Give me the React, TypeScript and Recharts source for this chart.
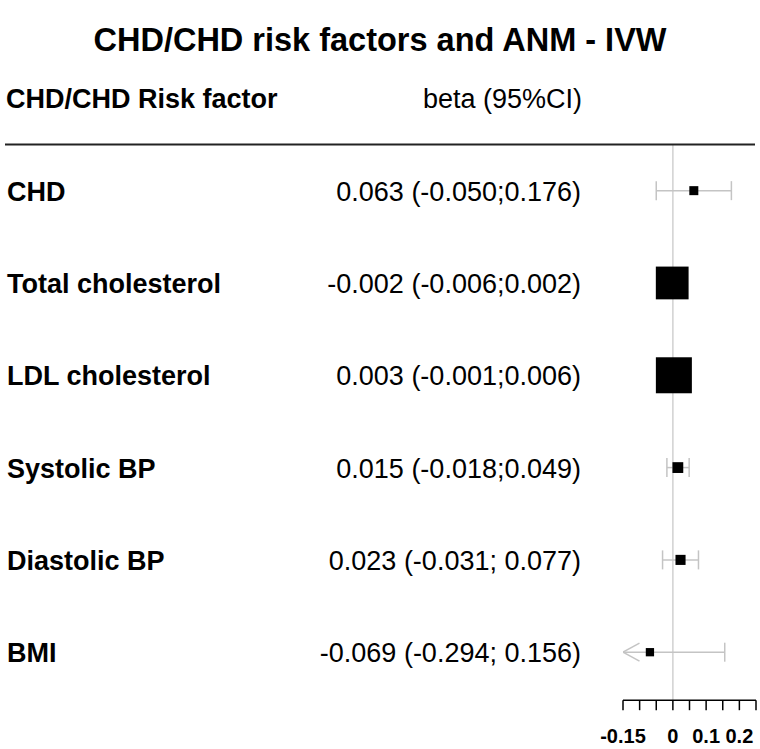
import React from "react";
import { ScatterChart, Scatter, XAxis, YAxis, ReferenceLine } from "recharts";

const factors = ["CHD", "Total cholesterol", "LDL cholesterol", "Systolic BP", "Diastolic BP", "BMI"];
const betas = [0.063, -0.002, 0.003, 0.015, 0.023, -0.069];
const lowers = [-0.05, -0.006, -0.001, -0.018, -0.031, -0.294];
const uppers = [0.176, 0.002, 0.006, 0.049, 0.077, 0.156];
const ciLabels = [
  "0.063 (-0.050;0.176)",
  "-0.002 (-0.006;0.002)",
  "0.003 (-0.001;0.006)",
  "0.015 (-0.018;0.049)",
  "0.023 (-0.031; 0.077)",
  "-0.069 (-0.294; 0.156)",
];
// relative box weights (largest = 1)
const weights = [0.25, 0.91, 1.0, 0.3, 0.28, 0.23];
const xTicks = [-0.15, -0.1, -0.05, 0, 0.05, 0.1, 0.15, 0.2, 0.25];
const xTickLabels = ["-0.15", "", "", "0", "", "0.1", "", "0.2", ""];
const xDomain = [-0.15, 0.25];

const title = "CHD/CHD risk factors and ANM - IVW";
const headerLeft = "CHD/CHD Risk factor";
const headerRight = "beta (95%CI)";

const FONT = "'Liberation Sans', Arial, Helvetica, sans-serif";
const CI_COLOR = "#c4c4c4";
const MAX_BOX = 36;

const boxes = factors.map((f, i) => ({ x: betas[i], y: i, w: weights[i] }));
const ciSeries = factors.map((f, i) => [
  { x: Math.max(lowers[i], xDomain[0]), y: i, clipped: lowers[i] < xDomain[0] },
  { x: Math.min(uppers[i], xDomain[1]), y: i, clipped: uppers[i] > xDomain[1] },
]);

const capShape = (props: any) => {
  const { cx, cy, payload, index } = props;
  if (payload.clipped) {
    const dir = index === 0 ? 1 : -1;
    return (
      <g>
        <line x1={cx} y1={cy} x2={cx + dir * 16.5} y2={cy - 9} stroke={CI_COLOR} strokeWidth={1.5} />
        <line x1={cx} y1={cy} x2={cx + dir * 16.5} y2={cy + 9} stroke={CI_COLOR} strokeWidth={1.5} />
      </g>
    );
  }
  return <line x1={cx} y1={cy - 9.5} x2={cx} y2={cy + 9.5} stroke={CI_COLOR} strokeWidth={1.5} />;
};

const boxShape = (props: any) => {
  const { cx, cy, payload } = props;
  const s = payload.w * MAX_BOX;
  return <rect x={cx - s / 2} y={cy - s / 2} width={s} height={s} fill="#000" />;
};

const YTick = (props: any) => {
  const { y, payload } = props;
  const i = payload.value;
  if (i < 0 || i >= factors.length) return null;
  return (
    <g>
      <text x={7} y={y + 10} fontFamily={FONT} fontSize={27} fontWeight="bold" fill="#000">
        {factors[i]}
      </text>
      <text x={581} y={y + 10} fontFamily={FONT} fontSize={27} textAnchor="end" fill="#000">
        {ciLabels[i]}
      </text>
    </g>
  );
};

const XTick = (props: any) => {
  const { x, y, payload } = props;
  const idx = xTicks.indexOf(payload.value);
  const label = idx >= 0 ? xTickLabels[idx] : "";
  if (!label) return null;
  return (
    <text x={x} y={y + 31} fontFamily={FONT} fontSize={20} fontWeight="bold" textAnchor="middle" fill="#000">
      {label}
    </text>
  );
};

export default function App() {
  return (
    <div style={{ position: "absolute", left: 0, top: 0, width: 760, height: 749, background: "#fff" }}>
      <div style={{ position: "absolute", left: 0, top: 0 }}>
        <ScatterChart width={760} height={749} margin={{ top: 144.5, right: 4, bottom: 18.8, left: 0 }}>
          <XAxis
            type="number"
            dataKey="x"
            domain={xDomain}
            ticks={xTicks}
            allowDataOverflow
            interval={0}
            height={30}
            tick={<XTick />}
            tickSize={10}
            tickLine={{ stroke: "#000", strokeWidth: 1.5 }}
            axisLine={{ stroke: "#000", strokeWidth: 1.5 }}
          />
          <YAxis
            type="number"
            dataKey="y"
            domain={[-0.5, 5.52]}
            reversed
            ticks={[0, 1, 2, 3, 4, 5]}
            interval={0}
            width={623}
            axisLine={false}
            tickLine={false}
            tick={<YTick />}
          />
          <ReferenceLine x={0} stroke="#d0d0d0" strokeWidth={1.5} />
          {ciSeries.map((d, i) => (
            <Scatter
              key={"ci" + i}
              data={d}
              line={{ stroke: CI_COLOR, strokeWidth: 1.5 }}
              shape={capShape}
              isAnimationActive={false}
            />
          ))}
          <Scatter data={boxes} shape={boxShape} isAnimationActive={false} />
        </ScatterChart>
      </div>
      <svg width={760} height={749} style={{ position: "absolute", left: 0, top: 0, pointerEvents: "none" }}>
        <text x={380} y={51} textAnchor="middle" fontFamily={FONT} fontSize={32.5} fontWeight="bold" fill="#000">
          {title}
        </text>
        <text x={6} y={108} fontFamily={FONT} fontSize={27} fontWeight="bold" fill="#000">
          {headerLeft}
        </text>
        <text x={582} y={108} textAnchor="end" fontFamily={FONT} fontSize={27} fill="#000">
          {headerRight}
        </text>
        <line x1={5} x2={755} y1={144.5} y2={144.5} stroke="#222" strokeWidth={2} />
      </svg>
    </div>
  );
}
